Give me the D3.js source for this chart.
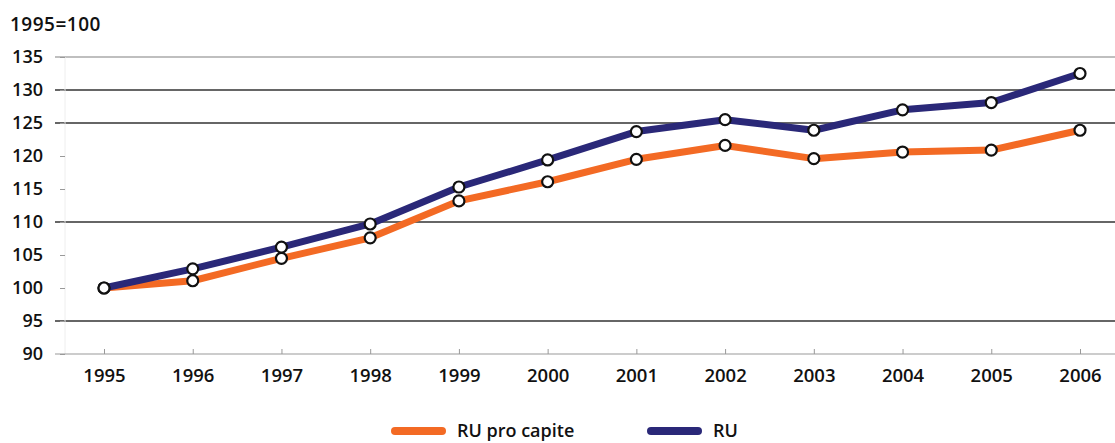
<!DOCTYPE html>
<html>
<head>
<meta charset="utf-8">
<script src="https://cdn.jsdelivr.net/npm/d3@7"></script>
<style>
  body { margin: 0; background: #fff; }
  text { font-family: "Open Sans", "DejaVu Sans", sans-serif; fill: #111; }
</style>
</head>
<body>
<div id="chart"></div>
<script>
// data
var years = ['1995','1996','1997','1998','1999','2000','2001','2002','2003','2004','2005','2006'];
var ruProCapite = [100, 101.1, 104.5, 107.6, 113.2, 116.1, 119.5, 121.6, 119.6, 120.6, 120.9, 123.9];
var ru = [100, 102.9, 106.2, 109.7, 115.3, 119.4, 123.7, 125.5, 123.9, 127.0, 128.1, 132.5];
var yTicks = [90, 95, 100, 105, 110, 115, 120, 125, 130, 135];
var gridValues = [95, 110, 125, 130, 135];
var seriesNames = ['RU pro capite', 'RU'];
var colors = ['#f36a24', '#2a2878'];

var width = 1115, height = 443;
var left = 55, right = 1115;

var svg = d3.select('#chart').append('svg')
    .attr('width', width)
    .attr('height', height);

var x = d3.scalePoint()
    .domain(years)
    .range([104, 1080]);

var y = d3.scaleLinear()
    .domain([90, 135])
    .range([354, 57]);

// title
svg.append('text')
    .attr('x', 10).attr('y', 31)
    .attr('font-size', 19)
    .attr('font-weight', 600)
    .attr('letter-spacing', 0.5)
    .text('1995=100');

// gridlines (only some values have one)
svg.append('g').selectAll('line')
    .data(gridValues)
    .enter().append('line')
    .attr('x1', left).attr('x2', right)
    .attr('y1', function(d) { return y(d); })
    .attr('y2', function(d) { return y(d); })
    .attr('stroke', function(d) { return d == 135 ? '#aaa' : '#333'; })
    .attr('stroke-width', 1.5);

// faint vertical axis
svg.append('line')
    .attr('x1', 65).attr('x2', 65)
    .attr('y1', y(135)).attr('y2', y(90))
    .attr('stroke', '#eee');

// y axis: labels and small ticks
var yAxis = d3.axisLeft(y)
    .tickValues(yTicks)
    .tickSize(-5)
    .tickPadding(17)
    .tickFormat(d3.format('d'));

var gy = svg.append('g')
    .attr('transform', 'translate(' + (left + 5) + ',0)')
    .call(yAxis);
gy.select('.domain').remove();
gy.selectAll('.tick line').attr('stroke', '#999');
gy.selectAll('.tick text')
    .attr('font-size', 18)
    .attr('font-weight', 600)
    .attr('fill', '#111')
    .attr('font-family', '"Open Sans", sans-serif');

// x axis at 90
var xAxis = d3.axisBottom(x)
    .tickSize(-5)
    .tickPadding(15);

var gx = svg.append('g')
    .attr('transform', 'translate(0,' + y(90) + ')')
    .call(xAxis);
gx.select('.domain').remove();
gx.insert('line', ':first-child')
    .attr('x1', left).attr('x2', right)
    .attr('y1', 0).attr('y2', 0)
    .attr('stroke', '#999');
gx.selectAll('.tick line').attr('stroke', '#999');
gx.selectAll('.tick text')
    .attr('font-size', 18.5)
    .attr('font-weight', 600)
    .attr('fill', '#111')
    .attr('font-family', '"Open Sans", sans-serif');

// lines
var line = d3.line()
    .x(function(d, i) { return x(years[i]); })
    .y(function(d) { return y(d); });

var allSeries = [ruProCapite, ru];

allSeries.forEach(function(values, k) {
    svg.append('path')
        .datum(values)
        .attr('d', line)
        .attr('fill', 'none')
        .attr('stroke', colors[k])
        .attr('stroke-width', 7)
        .attr('stroke-linejoin', 'round');
});

allSeries.forEach(function(values) {
    svg.append('g').selectAll('circle')
        .data(values)
        .enter().append('circle')
        .attr('cx', function(d, i) { return x(years[i]); })
        .attr('cy', function(d) { return y(d); })
        .attr('r', 5.5)
        .attr('fill', '#fff')
        .attr('stroke', '#111')
        .attr('stroke-width', 2.2);
});

// legend
var legendX = [392, 648];
var legend = svg.append('g').selectAll('g')
    .data(seriesNames)
    .enter().append('g')
    .attr('transform', function(d, i) { return 'translate(' + legendX[i] + ',431)'; });

legend.append('line')
    .attr('x1', 3).attr('x2', 50)
    .attr('y1', 0).attr('y2', 0)
    .attr('stroke', function(d, i) { return colors[i]; })
    .attr('stroke-width', 8)
    .attr('stroke-linecap', 'round');

legend.append('text')
    .attr('x', 65)
    .attr('y', 6)
    .attr('font-size', 18)
    .attr('font-weight', 600)
    .text(function(d) { return d; });
</script>
</body>
</html>
